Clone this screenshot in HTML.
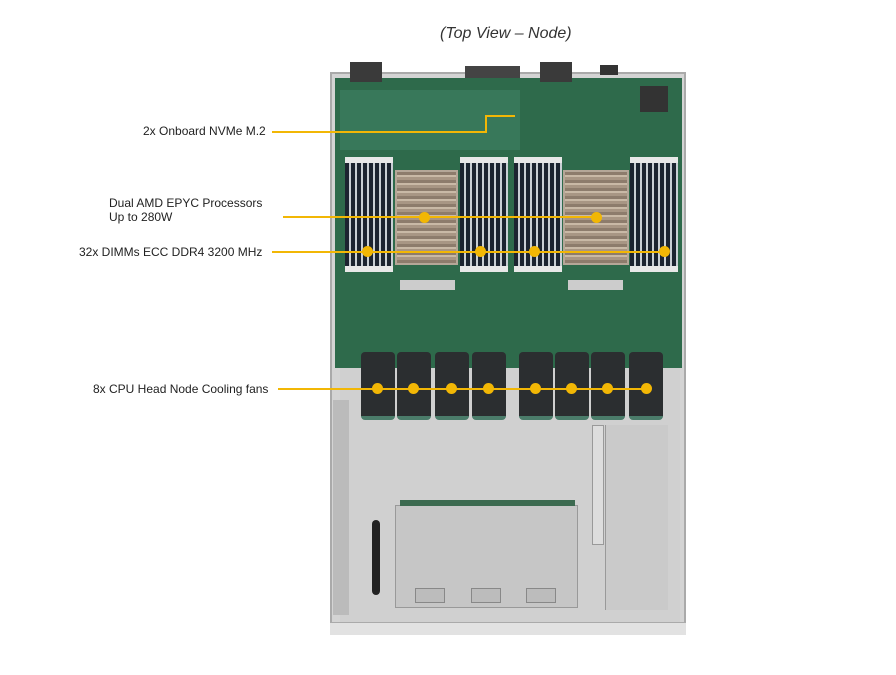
<!DOCTYPE html>
<html><head><style>
body{margin:0;width:896px;height:675px;background:#fff;position:relative;overflow:hidden;font-family:"Liberation Sans",sans-serif}
div{position:absolute;box-sizing:border-box}
.lbl{font-size:12px;color:#222;white-space:nowrap}
.dimm{background:repeating-linear-gradient(90deg,#1c2430 0 4px,#c9cfd4 4px 6px);border-top:6px solid #e8e8e8;border-bottom:6px solid #e8e8e8}
.hs{background:repeating-linear-gradient(180deg,#8d7c6c 0 3px,#c9b9a6 3px 5px,#a89684 5px 8px);border:2px solid #b5a798}
.fan{background:#2b2e30;border-radius:4px;border-bottom:4px solid #4b7c6a;top:352px;height:68px;width:34px}
.dot{width:11px;height:11px;border-radius:50%;background:#f2b705}
.ln{background:#f2b705;height:2px}
</style></head><body>
<div style="left:440px;top:25px;font-size:16px;font-style:italic;color:#333">(Top View – Node)</div>
<!-- chassis -->
<div style="left:330px;top:72px;width:356px;height:563px;background:#d4d4d4;border:2px solid #aaa"></div>
<div style="left:335px;top:78px;width:347px;height:290px;background:#2e6a4b"></div>
<div style="left:340px;top:90px;width:180px;height:60px;background:#38785a"></div>
<div style="left:640px;top:86px;width:28px;height:26px;background:#333"></div>
<div style="left:465px;top:66px;width:55px;height:12px;background:#444"></div>
<div style="left:350px;top:62px;width:32px;height:20px;background:#3a3a3a"></div>
<div style="left:540px;top:62px;width:32px;height:20px;background:#3a3a3a"></div>
<div style="left:600px;top:65px;width:18px;height:10px;background:#333"></div>
<!-- dimms/heatsinks -->
<div class="dimm" style="left:345px;top:157px;width:48px;height:115px"></div>
<div class="dimm" style="left:460px;top:157px;width:48px;height:115px"></div>
<div class="dimm" style="left:514px;top:157px;width:48px;height:115px"></div>
<div class="dimm" style="left:630px;top:157px;width:48px;height:115px"></div>
<div class="hs" style="left:395px;top:170px;width:63px;height:95px"></div>
<div class="hs" style="left:563px;top:170px;width:66px;height:95px"></div>
<div style="left:400px;top:280px;width:55px;height:10px;background:#ccc"></div>
<div style="left:568px;top:280px;width:55px;height:10px;background:#ccc"></div>
<!-- lower tray -->
<div style="left:340px;top:368px;width:340px;height:255px;background:#d0d0d0"></div>
<div style="left:333px;top:400px;width:16px;height:215px;background:#bbb"></div>
<div style="left:395px;top:505px;width:183px;height:103px;background:#c6c6c6;border:1px solid #999"></div>
<div style="left:400px;top:500px;width:175px;height:6px;background:#3c6a50"></div>
<div style="left:415px;top:588px;width:30px;height:15px;background:#bcbcbc;border:1px solid #888"></div>
<div style="left:471px;top:588px;width:30px;height:15px;background:#bcbcbc;border:1px solid #888"></div>
<div style="left:526px;top:588px;width:30px;height:15px;background:#bcbcbc;border:1px solid #888"></div>
<div style="left:605px;top:425px;width:63px;height:185px;background:#cacaca;border-left:1px solid #999"></div>
<div style="left:592px;top:425px;width:12px;height:120px;background:#ddd;border:1px solid #999"></div>
<div style="left:372px;top:520px;width:8px;height:75px;background:#222;border-radius:4px"></div>
<div style="left:330px;top:622px;width:356px;height:13px;background:#e2e2e2;border-top:1px solid #aaa"></div>
<!-- fans -->
<div class="fan" style="left:361px"></div><div class="fan" style="left:397px"></div>
<div class="fan" style="left:435px"></div><div class="fan" style="left:472px"></div>
<div class="fan" style="left:519px"></div><div class="fan" style="left:555px"></div>
<div class="fan" style="left:591px"></div><div class="fan" style="left:629px"></div>
<!-- callouts -->
<div class="lbl" style="left:143px;top:124px">2x Onboard NVMe M.2</div>
<div class="ln" style="left:272px;top:131px;width:215px"></div>
<div style="left:485px;top:115px;width:2px;height:18px;background:#f2b705"></div>
<div class="ln" style="left:485px;top:115px;width:30px"></div>
<div class="lbl" style="left:109px;top:196px;line-height:14px">Dual AMD EPYC Processors<br>Up to 280W</div>
<div class="ln" style="left:283px;top:216px;width:315px"></div>
<div class="dot" style="left:419px;top:212px"></div><div class="dot" style="left:591px;top:212px"></div>
<div class="lbl" style="left:79px;top:245px">32x DIMMs ECC DDR4 3200 MHz</div>
<div class="ln" style="left:272px;top:251px;width:393px"></div>
<div class="dot" style="left:362px;top:246px"></div><div class="dot" style="left:475px;top:246px"></div>
<div class="dot" style="left:529px;top:246px"></div><div class="dot" style="left:659px;top:246px"></div>
<div class="lbl" style="left:93px;top:382px">8x CPU Head Node Cooling fans</div>
<div class="ln" style="left:278px;top:388px;width:370px"></div>
<div class="dot" style="left:372px;top:383px"></div><div class="dot" style="left:408px;top:383px"></div>
<div class="dot" style="left:446px;top:383px"></div><div class="dot" style="left:483px;top:383px"></div>
<div class="dot" style="left:530px;top:383px"></div><div class="dot" style="left:566px;top:383px"></div>
<div class="dot" style="left:602px;top:383px"></div><div class="dot" style="left:641px;top:383px"></div>
</body></html>
